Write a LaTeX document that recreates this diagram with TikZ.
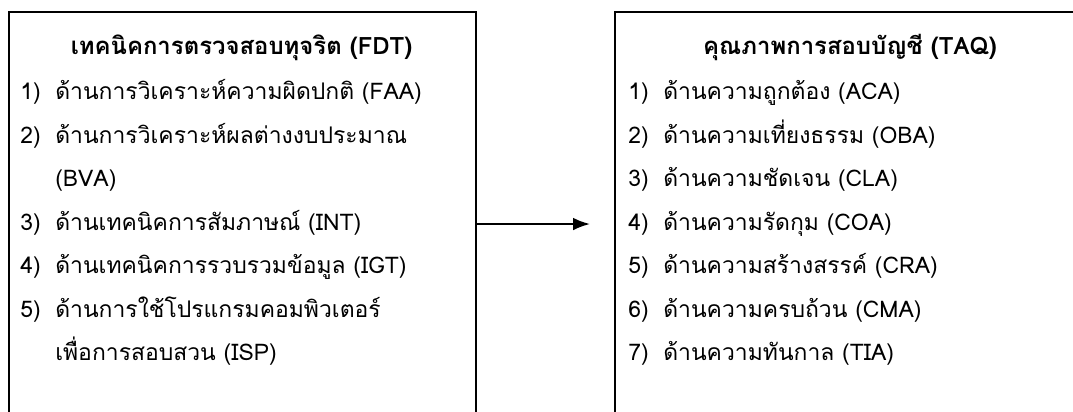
\documentclass[tikz,border=0pt]{standalone}
\usepackage{fontspec}
\newfontfamily\thaifont[Script=Thai]{Loma}
\usetikzlibrary{arrows.meta, positioning}
\newcommand{\itemno}[1]{\makebox[0.875cm][l]{#1}}

\begin{document}
\begin{tikzpicture}[x=0.025cm, y=0.025cm,
  panel/.style={draw, line width=1.4pt, inner sep=0pt, anchor=north west,
    minimum height=10.6cm},
  head/.style={anchor=base, inner sep=0pt, font=\thaifont\fontsize{17}{20}\selectfont\bfseries},
  item/.style={anchor=base west, inner sep=0pt, font=\thaifont\fontsize{16.3}{19}\selectfont},
  arr/.style={-{Latex[length=12pt, width=9pt]}, line width=1.4pt, shorten >=0.6cm}
]
\useasboundingbox (0,0) rectangle (1073,412);
\node[panel, minimum width=11.675cm] (fdt) at (8,401) {};
\node[panel, minimum width=11.9cm] (taq) at (614,401) {};
\draw[arr] (fdt) -- (taq);
% left box
\node[head] (fdthead) at (241.5,357) {เทคนิคการตรวจสอบทุจริต (FDT)};
\node[item] (faa) at (20,312)   {\itemno{1)}ด้านการวิเคราะห์ความผิดปกติ (FAA)};
\node[item] (bva) at (20,268.5) {\itemno{2)}ด้านการวิเคราะห์ผลต่างงบประมาณ};
\node[item] (bvb) at (20,225)   {\itemno{}(BVA)};
\node[item] (int) at (20,181.5) {\itemno{3)}ด้านเทคนิคการสัมภาษณ์ (INT)};
\node[item] (igt) at (20,138)   {\itemno{4)}ด้านเทคนิคการรวบรวมข้อมูล (IGT)};
\node[item] (isp) at (20,94.5)  {\itemno{5)}ด้านการใช้โปรแกรมคอมพิวเตอร์};
\node[item] (isq) at (20,51)    {\itemno{}เพื่อการสอบสวน (ISP)};
% right box
\node[head] (taqhead) at (850,357) {คุณภาพการสอบบัญชี (TAQ)};
\node[item] (aca) at (628,312)   {\itemno{1)}ด้านความถูกต้อง (ACA)};
\node[item] (oba) at (628,268.5) {\itemno{2)}ด้านความเที่ยงธรรม (OBA)};
\node[item] (cla) at (628,225)   {\itemno{3)}ด้านความชัดเจน (CLA)};
\node[item] (coa) at (628,181.5) {\itemno{4)}ด้านความรัดกุม (COA)};
\node[item] (cra) at (628,138)   {\itemno{5)}ด้านความสร้างสรรค์ (CRA)};
\node[item] (cma) at (628,94.5)  {\itemno{6)}ด้านความครบถ้วน (CMA)};
\node[item] (tia) at (628,51)    {\itemno{7)}ด้านความทันกาล (TIA)};
\end{tikzpicture}
\end{document}
